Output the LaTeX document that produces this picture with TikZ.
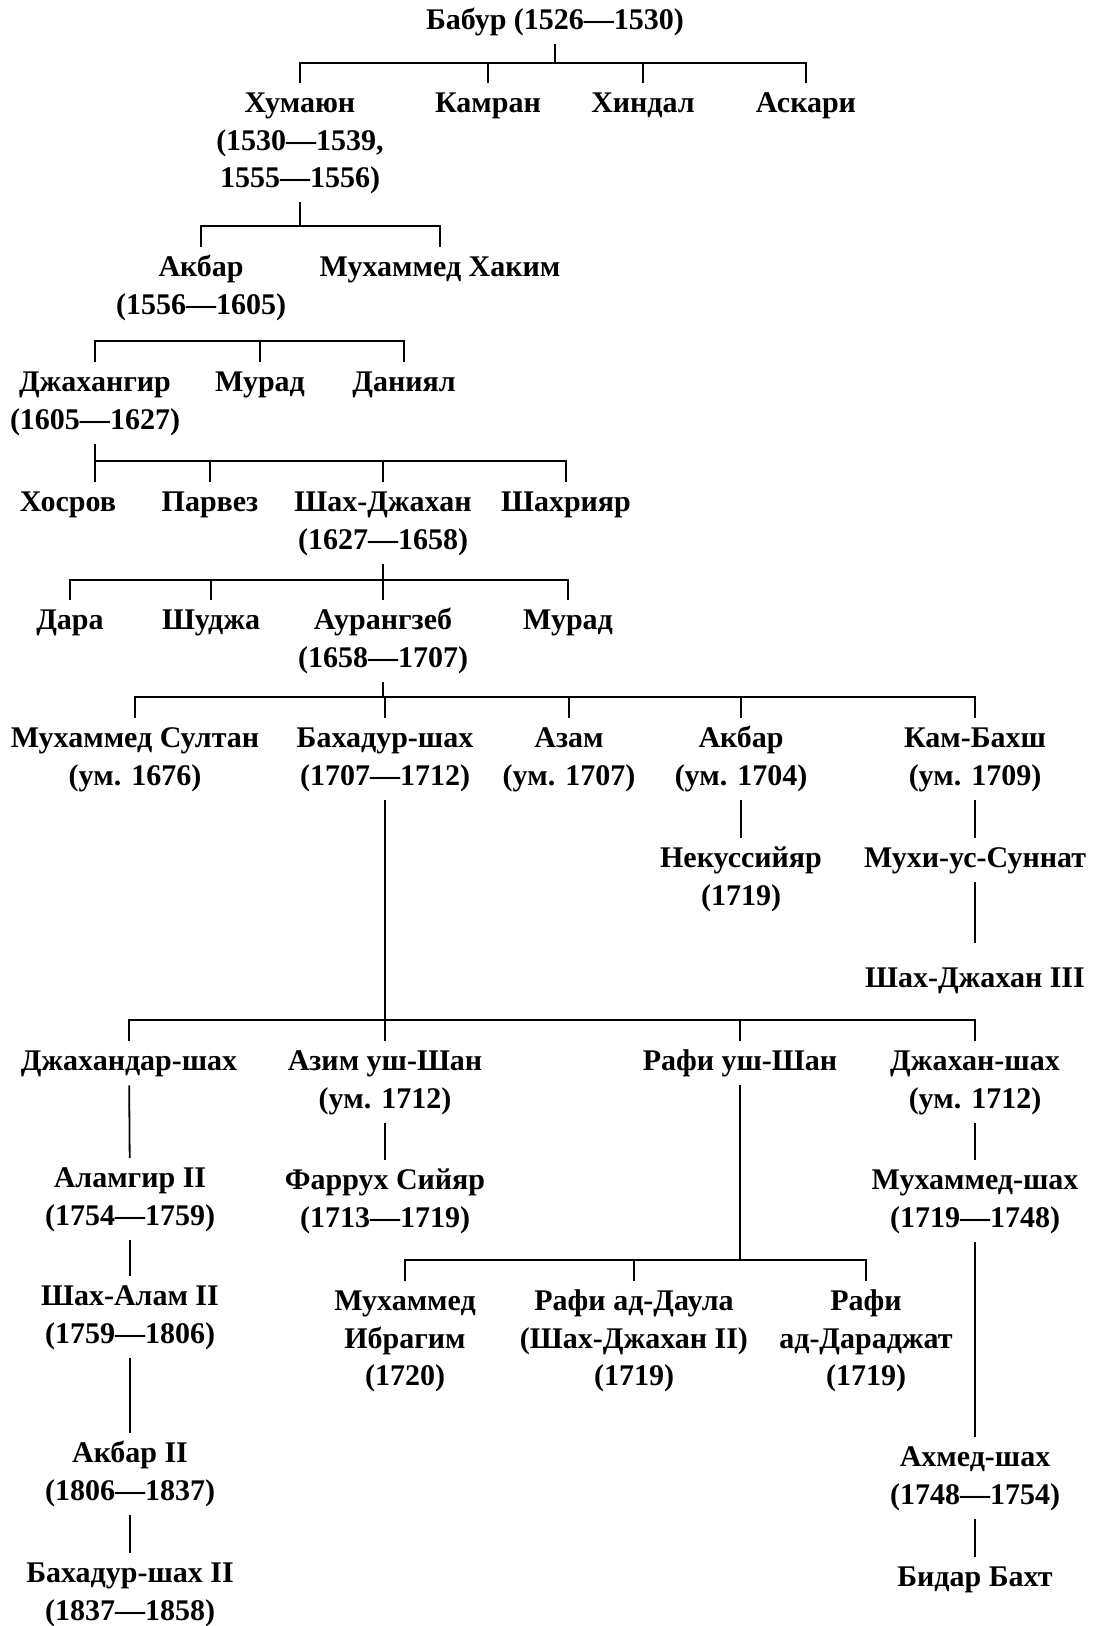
\documentclass[tikz,border=0pt]{standalone}
\usepackage{fontspec}
\setmainfont{Liberation Serif}
\newcommand\tstrut{\rule[-5.625pt]{0pt}{18.75pt}}
\tikzset{
  person/.style={font=\bfseries\fontsize{15}{18.75}\selectfont, align=center,
    anchor=north, inner xsep=0pt, inner ysep=1.5pt},
  link/.style={line width=0.9pt}
}
\begin{document}
\begin{tikzpicture}[x=0.5pt,y=-0.5pt]
\useasboundingbox (0,0) rectangle (1092,1626);
% rulers and their brothers
\node[person] (babur) at (555,0) {\tstrut Бабур (1526—1530)};
\node[person] (humayun) at (300,83) {\tstrut Хумаюн\\(1530—1539,\\1555—1556)\tstrut};
\node[person] (kamran) at (488,83) {\tstrut Камран};
\node[person] (hindal) at (643,83) {\tstrut Хиндал};
\node[person] (askari) at (806,83) {\tstrut Аскари};
\node[person] (akbar) at (201,247) {\tstrut Акбар\\(1556—1605)\tstrut};
\node[person] (hakim) at (440,247) {\tstrut Мухаммед Хаким};
\node[person] (jahangir) at (95,362) {\tstrut Джахангир\\(1605—1627)\tstrut};
\node[person] (murad) at (260,362) {\tstrut Мурад};
\node[person] (daniyal) at (404,362) {\tstrut Даниял};
\node[person] (khusrau) at (68,482) {\tstrut Хосров};
\node[person] (parviz) at (210,482) {\tstrut Парвез};
\node[person] (shahjahan) at (383,482) {\tstrut Шах-Джахан\\(1627—1658)\tstrut};
\node[person] (shahryar) at (566,482) {\tstrut Шахрияр};
\node[person] (dara) at (70,600) {\tstrut Дара};
\node[person] (shuja) at (211,600) {\tstrut Шуджа};
\node[person] (aurangzeb) at (383,600) {\tstrut Аурангзеб\\(1658—1707)\tstrut};
\node[person] (muradbakhsh) at (568,600) {\tstrut Мурад};
\node[person] (sultan) at (135,718) {\tstrut Мухаммед Султан\\(ум. 1676)\tstrut};
\node[person] (bahadur) at (385,718) {\tstrut Бахадур-шах\\(1707—1712)\tstrut};
\node[person] (azam) at (569,718) {\tstrut Азам\\(ум. 1707)\tstrut};
\node[person] (akbarson) at (741,718) {\tstrut Акбар\\(ум. 1704)\tstrut};
\node[person] (kambakhsh) at (975,718) {\tstrut Кам-Бахш\\(ум. 1709)\tstrut};
\node[person] (nekusiyar) at (741,838) {\tstrut Некуссийяр\\(1719)\tstrut};
\node[person] (muhi) at (975,838) {\tstrut Мухи-ус-Суннат};
\node[person] (shahjahanIII) at (975,958) {\tstrut Шах-Джахан III};
% sons of Bahadur-shah
\node[person] (jahandar) at (129,1041) {\tstrut Джахандар-шах};
\node[person] (azim) at (385,1041) {\tstrut Азим уш-Шан\\(ум. 1712)\tstrut};
\node[person] (rafi) at (740,1041) {\tstrut Рафи уш-Шан};
\node[person] (jahanshah) at (975,1041) {\tstrut Джахан-шах\\(ум. 1712)\tstrut};
\node[person] (alamgir) at (130,1158) {\tstrut Аламгир II\\(1754—1759)\tstrut};
\node[person] (farrukh) at (385,1160) {\tstrut Фаррух Сийяр\\(1713—1719)\tstrut};
\node[person] (muhammadshah) at (975,1160) {\tstrut Мухаммед-шах\\(1719—1748)\tstrut};
\node[person] (ibrahim) at (405,1281) {\tstrut Мухаммед\\Ибрагим\\(1720)\tstrut};
\node[person] (rafidaula) at (634,1281) {\tstrut Рафи ад-Даула\\(Шах-Джахан II)\\(1719)\tstrut};
\node[person] (rafidarajat) at (866,1281) {\tstrut Рафи\\ад-Дараджат\\(1719)\tstrut};
\node[person] (shahalam) at (130,1276) {\tstrut Шах-Алам II\\(1759—1806)\tstrut};
\node[person] (akbarII) at (130,1433) {\tstrut Акбар II\\(1806—1837)\tstrut};
\node[person] (ahmadshah) at (975,1437) {\tstrut Ахмед-шах\\(1748—1754)\tstrut};
\node[person] (bahadurII) at (130,1553) {\tstrut Бахадур-шах II\\(1837—1858)\tstrut};
\node[person] (bidar) at (975,1557) {\tstrut Бидар Бахт};
% family links
\draw[link] (babur.south) -- ++(0,18.5) -| (humayun.north)
  (babur.south) -- ++(0,18.5) -| (kamran.north)
  (babur.south) -- ++(0,18.5) -| (hindal.north)
  (babur.south) -- ++(0,18.5) -| (askari.north);
\draw[link] (humayun.south) -- ++(0,23.5) -| (akbar.north)
  (humayun.south) -- ++(0,23.5) -| (hakim.north);
\draw[link] (jahangir.north) -- ++(0,-21) -| (daniyal.north)
  (murad.north) -- ++(0,-21);
\draw[link] (jahangir.south) -- (jahangir.south |- khusrau.north)
  (jahangir.south) -- ++(0,17) -| (parviz.north)
  (jahangir.south) -- ++(0,17) -| (shahjahan.north)
  (jahangir.south) -- ++(0,17) -| (shahryar.north);
\draw[link] (shahjahan.south) -- ++(0,16) -| (dara.north)
  (shahjahan.south) -- ++(0,16) -| (shuja.north)
  (shahjahan.south) -- ++(0,16) -| (aurangzeb.north)
  (shahjahan.south) -- ++(0,16) -| (muradbakhsh.north);
\draw[link] (aurangzeb.south) -- ++(0,15) -| (sultan.north)
  (aurangzeb.south) -- ++(0,15) -| (bahadur.north)
  (aurangzeb.south) -- ++(0,15) -| (azam.north)
  (aurangzeb.south) -- ++(0,15) -| (akbarson.north)
  (aurangzeb.south) -- ++(0,15) -| (kambakhsh.north);
\draw[link] (akbarson) -- (nekusiyar);
\draw[link] (kambakhsh) -- (muhi);
\draw[link] (muhi) -- ([yshift=7.5pt]shahjahanIII.north);
\draw[link] (bahadur.south) -- ++(0,220) -| (jahandar.north)
  (bahadur.south) -- ++(0,220) -| (azim.north)
  (bahadur.south) -- ++(0,220) -| (rafi.north)
  (bahadur.south) -- ++(0,220) -| (jahanshah.north);
\draw[link] (jahandar) -- (alamgir);
\draw[link] (alamgir) -- (shahalam);
\draw[link] (shahalam) -- (akbarII);
\draw[link] (akbarII) -- (bahadurII);
\draw[link] (azim) -- (farrukh);
\draw[link] (jahanshah) -- (muhammadshah);
\draw[link] (muhammadshah) -- (ahmadshah);
\draw[link] (ahmadshah) -- (bidar);
\draw[link] (rafi.south) -- ++(0,174.5) -| (ibrahim.north)
  (rafi.south) -- ++(0,174.5) -| (rafidaula.north)
  (rafi.south) -- ++(0,174.5) -| (rafidarajat.north);
\end{tikzpicture}
\end{document}
